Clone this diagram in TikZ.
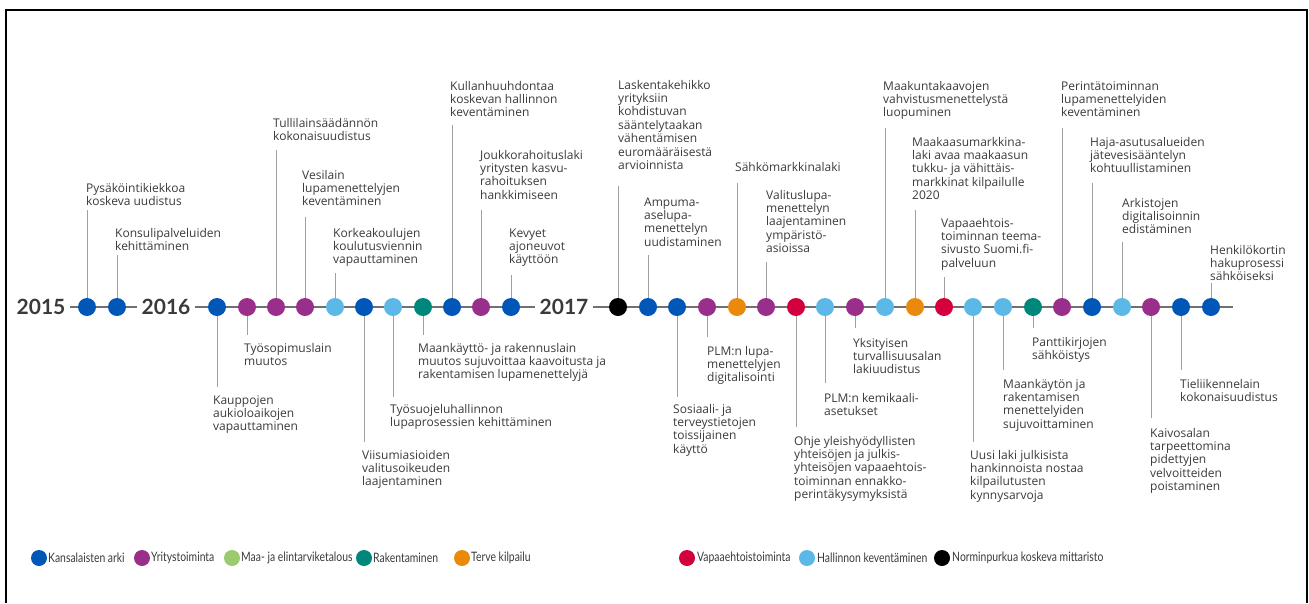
\documentclass[tikz,border=0pt]{standalone}
\usepackage{fontspec}
\setmainfont{Open Sans}
\newfontfamily\yearfont{Lato}
\newfontfamily\legfont[FakeStretch=0.8]{Lato}
\definecolor{cblue}{HTML}{0057B8}
\definecolor{cpurple}{HTML}{9A2F8B}
\definecolor{cgreen}{HTML}{9ACB6E}
\definecolor{cteal}{HTML}{00877B}
\definecolor{corange}{HTML}{E98A0C}
\definecolor{cred}{HTML}{D3003D}
\definecolor{clight}{HTML}{5CB8E6}
\definecolor{ctext}{HTML}{3A3A3A}
\definecolor{cstem}{HTML}{A0A0A0}
\definecolor{caxis}{HTML}{707070}
\tikzset{
  dot/.style={circle,minimum size=18pt,inner sep=0pt,draw=none},
  legdot/.style={circle,minimum width=15pt,minimum height=16pt,inner sep=0pt,draw=none},
  lbl/.style={anchor=base west,inner sep=0pt,align=left,text=ctext,font=\fontsize{12}{13.4}\selectfont},
  legtxt/.style={anchor=west,inner sep=0pt,text=ctext,font=\legfont\fontsize{13}{15}\selectfont},
  year/.style={inner xsep=4pt,inner ysep=0pt,text=ctext,font=\yearfont\bfseries\fontsize{21}{24}\selectfont},
  stem/.style={draw=cstem,line width=0.9pt},
  axis/.style={draw=caxis,line width=1.1pt},
}
% name, x, colour, stem end y, first line centre y, text left x, number of lines, text
\newcommand\evt[8]{%
  \coordinate (s#1) at (#2,#4);
  \draw[stem] (#2,307) -- (s#1);
  \node[dot,fill=#3] (d#1) at (#2,307) {};
  \node[lbl] (l#1) at (#6,{#5+4+(#7-1)*13.4}) {#8};
}
\begin{document}
\begin{tikzpicture}[x=1pt,y=-1pt]
\useasboundingbox (0,0) rectangle (1309,603);
\draw[line width=2pt] (6,603) -- (6,10) -- (1307,10) -- (1307,603);
% years
\node[year] (y15) at (41,307) {2015};
\node[year] (y16) at (166,307) {2016};
\node[year] (y17) at (564,307) {2017};
\coordinate (axend) at (1233,307);
\draw[axis] (y15.east) -- (y16.west);
\draw[axis] (y16.east) -- (y17.west);
\draw[axis] (y17.east) -- (axend);
% above
\evt{a1}{87}{cblue}{210}{188}{86}{2}{Pysäköintikiekkoa\\koskeva uudistus}
\evt{a2}{117}{cblue}{255}{233}{115}{2}{Konsulipalveluiden\\kehittäminen}
\evt{a3}{276}{cpurple}{150}{123}{273}{2}{Tullilainsäädännön\\kokonaisuudistus}
\evt{a4}{305}{cpurple}{217}{175}{302}{3}{Vesilain\\lupamenettelyjen\\keventäminen}
\evt{a5}{335}{clight}{273}{233}{333}{3}{Korkeakoulujen\\koulutusviennin\\vapauttaminen}
\evt{a6}{452}{cblue}{125}{86}{450}{3}{Kullanhuuhdontaa\\koskevan hallinnon\\keventäminen}
\evt{a7}{481}{cpurple}{210}{155}{480}{4}{Joukkorahoituslaki\\yritysten kasvu-\\rahoituksen\\hankkimiseen}
\evt{a8}{511}{cblue}{275}{233}{509}{3}{Kevyet\\ajoneuvot\\käyttöön}
\evt{a9}{618}{black}{186}{85}{618}{7}{Laskentakehikko\\yrityksiin\\kohdistuvan\\sääntelytaakan\\vähentämisen\\euromääräisestä\\arvioinnista}
\evt{a10}{648}{cblue}{255}{202}{644}{4}{Ampuma-\\aselupa-\\menettelyn\\uudistaminen}
\evt{a11}{737}{corange}{183}{167}{735}{1}{Sähkömarkkinalaki}
\evt{a12}{766}{cpurple}{262}{195}{766}{5}{Valituslupa-\\menettelyn\\laajentaminen\\ympäristö-\\asioissa}
\evt{a13}{885}{clight}{128}{86}{883}{3}{Maakuntakaavojen\\vahvistusmenettelystä\\luopuminen}
\evt{a14}{915}{corange}{210}{142}{912}{5}{Maakaasumarkkina-\\laki avaa maakaasun\\tukku- ja vähittäis-\\markkinat kilpailulle\\2020}
\evt{a15}{944}{cred}{277}{223}{941}{4}{Vapaaehtois-\\toiminnan teema-\\sivusto Suomi.fi-\\palveluun}
\evt{a16}{1062}{cpurple}{128}{86}{1061}{3}{Perintätoiminnan\\lupamenettelyiden\\keventäminen}
\evt{a17}{1092}{cblue}{183}{142}{1090}{3}{Haja-asutusalueiden\\jätevesisääntelyn\\kohtuullistaminen}
\evt{a18}{1122}{clight}{242}{203}{1122}{3}{Arkistojen\\digitalisoinnin\\edistäminen}
\evt{a19}{1211}{cblue}{283}{250}{1210}{3}{Henkilökortin\\hakuprosessi\\sähköiseksi}
% below
\evt{b1}{217}{cblue}{387}{400}{213}{3}{Kauppojen\\aukioloaikojen\\vapauttaminen}
\evt{b2}{247}{cpurple}{335}{348}{244}{2}{Työsopimuslain\\muutos}
\evt{b3}{364}{cblue}{442}{455}{362}{3}{Viisumiasioiden\\valitusoikeuden\\laajentaminen}
\evt{b4}{393}{clight}{397}{409}{390}{2}{Työsuojeluhallinnon\\lupaprosessien kehittäminen}
\evt{b5}{423}{cteal}{335}{348}{418}{3}{Maankäyttö- ja rakennuslain\\muutos sujuvoittaa kaavoitusta ja\\rakentamisen lupamenettelyjä}
\evt{b6}{677}{cblue}{397}{409}{673}{4}{Sosiaali- ja\\terveystietojen\\toissijainen\\käyttö}
\evt{b7}{707}{cpurple}{337}{351}{707}{3}{PLM:n lupa-\\menettelyjen\\digitalisointi}
\evt{b8}{796}{cred}{427}{441}{794}{5}{Ohje yleishyödyllisten\\yhteisöjen ja julkis-\\yhteisöjen vapaaehtois-\\toiminnan ennakko-\\perintäkysymyksistä}
\evt{b9}{825}{clight}{383}{398}{824}{2}{PLM:n kemikaali-\\asetukset}
\evt{b10}{855}{cpurple}{328}{343}{853}{3}{Yksityisen\\turvallisuusalan\\lakiuudistus}
\evt{b11}{973}{clight}{442}{455}{970}{4}{Uusi laki julkisista\\hankinnoista nostaa\\kilpailutusten\\kynnysarvoja}
\evt{b12}{1003}{clight}{370}{384}{1003}{4}{Maankäytön ja\\rakentamisen\\menettelyiden\\sujuvoittaminen}
\evt{b13}{1033}{cteal}{328}{342}{1032}{2}{Panttikirjojen\\sähköistys}
\evt{b14}{1151}{cpurple}{418}{433}{1150}{5}{Kaivosalan\\tarpeettomina\\pidettyjen\\velvoitteiden\\poistaminen}
\evt{b15}{1181}{cblue}{370}{384}{1180}{2}{Tieliikennelain\\kokonaisuudistus}
% legend
\node[legdot,fill=cblue] (k1) at (39,558) {};
\node[legtxt] (t1) at (48,558) {Kansalaisten arki};
\node[legdot,fill=cpurple] (k2) at (142,558) {};
\node[legtxt] (t2) at (151,558) {Yritystoiminta};
\node[legdot,fill=cgreen] (k3) at (232,558) {};
\node[legtxt] (t3) at (241,558) {Maa- ja elintarviketalous};
\node[legdot,fill=cteal] (k4) at (364,558) {};
\node[legtxt] (t4) at (373,558) {Rakentaminen};
\node[legdot,fill=corange] (k5) at (462,558) {};
\node[legtxt] (t5) at (471,558) {Terve kilpailu};
\node[legdot,fill=cred] (k6) at (687,558) {};
\node[legtxt] (t6) at (697,558) {Vapaaehtoistoiminta};
\node[legdot,fill=clight] (k7) at (807,558) {};
\node[legtxt] (t7) at (817,558) {Hallinnon keventäminen};
\node[legdot,fill=black] (k8) at (942,558) {};
\node[legtxt] (t8) at (952,558) {Norminpurkua koskeva mittaristo};
\end{tikzpicture}
\end{document}
